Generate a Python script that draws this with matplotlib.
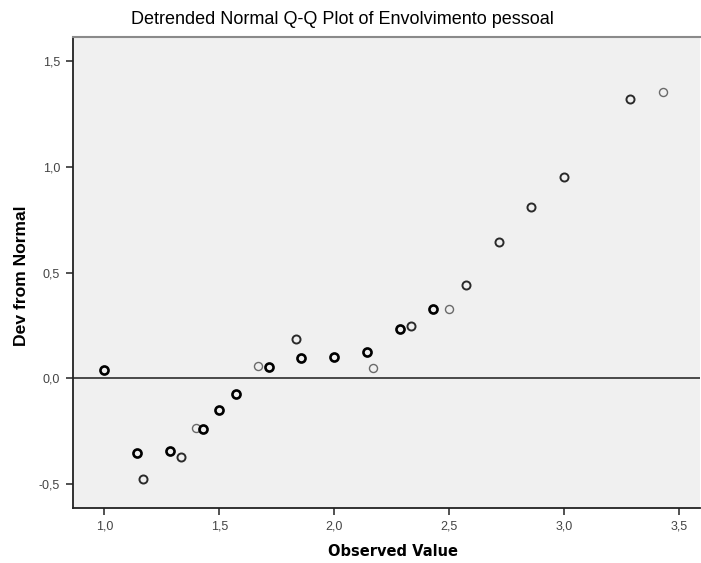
import matplotlib
matplotlib.use("Agg")
import matplotlib.pyplot as plt
from matplotlib.ticker import FuncFormatter, MultipleLocator

plt.rcParams["font.family"] = ["Liberation Sans", "DejaVu Sans"]

observed = [1.000, 1.143, 1.167, 1.286, 1.333, 1.400, 1.429, 1.500, 1.571,
            1.667, 1.714, 1.833, 1.857, 2.000, 2.143, 2.167, 2.286, 2.333,
            2.429, 2.500, 2.571, 2.714, 2.857, 3.000, 3.286, 3.429]
deviation = [0.042, -0.354, -0.476, -0.344, -0.372, -0.232, -0.237, -0.150, -0.072,
             0.060, 0.052, 0.187, 0.098, 0.102, 0.123, 0.049, 0.236, 0.250,
             0.329, 0.329, 0.444, 0.647, 0.811, 0.953, 1.321, 1.356]
# rough number of overlapping cases at each point (darker rings in the reference)
n_cases = [3, 3, 2, 3, 2, 1, 3, 3, 3,
           1, 3, 2, 3, 3, 3, 1, 3, 2,
           3, 1, 2, 2, 2, 2, 2, 1]

ring_style = {
    1: dict(color="#6a6a6a", lw=1.0),
    2: dict(color="#2a2a2a", lw=1.4),
    3: dict(color="#000000", lw=1.9),
}

fig = plt.figure(figsize=(7.01, 5.63), dpi=100)
ax = fig.add_axes([0.1037, 0.0977, 0.8949, 0.836])
ax.set_facecolor("#f0f0f0")

ax.axhline(0, color="#3c3c3c", lw=1.3, zorder=1)

for x, y, n in zip(observed, deviation, n_cases):
    style = ring_style[n]
    ax.plot(x, y, "o", ms=5.8, mfc="none", mec=style["color"], mew=style["lw"], zorder=3)

ax.set_xlim(0.8626, 3.59)
ax.set_ylim(-0.612, 1.612)
ax.xaxis.set_major_locator(MultipleLocator(0.5))
ax.yaxis.set_major_locator(MultipleLocator(0.5))
comma = FuncFormatter(lambda v, _: f"{v:.1f}".replace(".", ","))
ax.xaxis.set_major_formatter(comma)
ax.yaxis.set_major_formatter(comma)
ax.tick_params(direction="out", length=5, width=1.2, color="#333333",
               labelsize=9, labelcolor="#444444", pad=4)

for side in ("left", "bottom"):
    ax.spines[side].set_color("#222222")
    ax.spines[side].set_linewidth(1.3)
ax.spines["top"].set_color("#8a8a8a")
ax.spines["top"].set_linewidth(1.5)
ax.spines["right"].set_visible(False)

fig.text(393 / 701, 1 - 552 / 563, "Observed Value", ha="center", va="center",
         fontsize=10.5, fontweight="bold", family="DejaVu Sans")
fig.text(21.5 / 701, 1 - 276 / 563, "Dev from Normal", ha="center", va="center",
         rotation=90, fontsize=12.6, fontweight="bold")
fig.text(342.5 / 701, 1 - 20 / 563, "Detrended Normal Q-Q Plot of Envolvimento pessoal",
         ha="center", va="center", fontsize=13)

fig.savefig("out.png", dpi=100)
